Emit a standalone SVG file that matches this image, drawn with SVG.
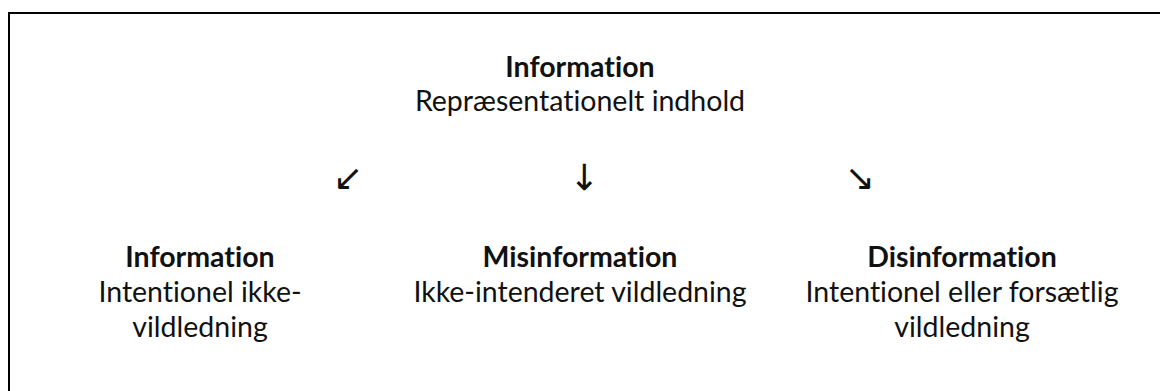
<svg xmlns="http://www.w3.org/2000/svg" width="1160" height="391" viewBox="0 0 1160 391">
<style>
text{font-family:Lato,"Noto Sans",sans-serif;font-size:28.5px;fill:#111;text-anchor:middle;font-variant-ligatures:none}
.b{font-weight:bold}
.a{font-family:"DejaVu Sans",sans-serif;font-size:36px}
</style>
<rect x="0" y="0" width="1160" height="391" fill="#fff"/>
<rect x="9" y="13" width="1300" height="500" fill="none" stroke="#000" stroke-width="2"/>
<g id="root">
<text class="b" x="580" y="77">Information</text>
<text x="580" y="111">Repræsentationelt indhold</text>
</g>
<g id="connectors">
<text class="a" x="348" y="190">↙</text>
<text class="a" x="584" y="190">↓</text>
<text class="a" x="860" y="190">↘</text>
</g>
<g id="n1">
<text class="b" x="200" y="267">Information</text>
<text x="200" y="302">Intentionel ikke-</text>
<text x="200" y="337">vildledning</text>
</g>
<g id="n2">
<text class="b" x="580" y="267">Misinformation</text>
<text x="580" y="302">Ikke-intenderet vildledning</text>
</g>
<g id="n3">
<text class="b" x="962" y="267">Disinformation</text>
<text x="962" y="302">Intentionel eller forsætlig</text>
<text x="962" y="337">vildledning</text>
</g>
</svg>
